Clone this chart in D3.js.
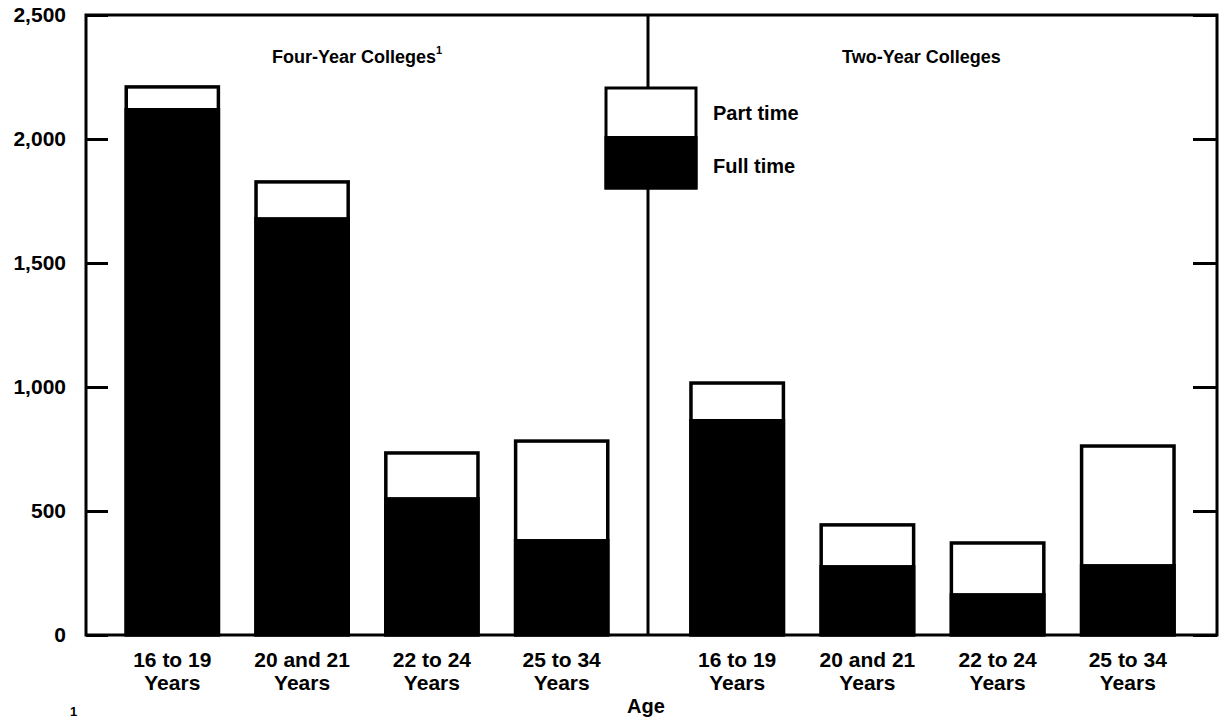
<!DOCTYPE html>
<html>
<head>
<meta charset="utf-8">
<script src="https://cdn.jsdelivr.net/npm/d3@7"></script>
<style>
  body { margin: 0; background: #fff; }
  text { font-family: "Liberation Sans", Arial, sans-serif; font-weight: bold; fill: #000; }
</style>
</head>
<body>
<div id="chart"></div>
<script>
// enrollment, thousands
var categories = ["16 to 19|Years", "20 and 21|Years", "22 to 24|Years", "25 to 34|Years"];
var panels = ["Four-Year Colleges", "Two-Year Colleges"];
var fourYearTotal = [2210, 1827, 734, 782];
var fourYearFull = [2125, 1685, 556, 387];
var twoYearTotal = [1016, 444, 371, 762];
var twoYearFull = [871, 282, 169, 286];
var yTicks = [0, 500, 1000, 1500, 2000, 2500];

var width = 1225;
var height = 720;
var plotLeft = 86, plotRight = 1217, plotTop = 15, plotBottom = 635, divider = 648;

var svg = d3.select("#chart")
  .append("svg")
  .attr("width", width)
  .attr("height", height);

var y = d3.scaleLinear()
  .domain([0, 2500])
  .range([plotBottom, plotTop]);

var xPanel = [
  d3.scaleBand().domain(categories).range([plotLeft, divider]).paddingInner(0.29).paddingOuter(0.31),
  d3.scaleBand().domain(categories).range([divider, plotRight]).paddingInner(0.29).paddingOuter(0.33)
];

var series = [
  { total: fourYearTotal, full: fourYearFull },
  { total: twoYearTotal, full: twoYearFull }
];

// bars
series.forEach(function (s, p) {
  var x = xPanel[p];
  var g = svg.append("g");
  g.selectAll("rect.total")
    .data(categories)
    .enter().append("rect")
    .attr("class", "total")
    .attr("x", function (d) { return x(d); })
    .attr("width", x.bandwidth())
    .attr("y", function (d, i) { return y(s.total[i]); })
    .attr("height", function (d, i) { return y(0) - y(s.total[i]); })
    .attr("fill", "#fff")
    .attr("stroke", "#000")
    .attr("stroke-width", 3.5);
  g.selectAll("rect.full")
    .data(categories)
    .enter().append("rect")
    .attr("class", "full")
    .attr("x", function (d) { return x(d) - 1.75; })
    .attr("width", x.bandwidth() + 3.5)
    .attr("y", function (d, i) { return y(s.full[i]); })
    .attr("height", function (d, i) { return y(0) - y(s.full[i]); })
    .attr("fill", "#000");

  // category labels
  var lab = svg.append("g")
    .selectAll("text")
    .data(categories)
    .enter().append("text")
    .attr("text-anchor", "middle")
    .attr("font-size", 21)
    .attr("x", function (d) { return x(d) + x.bandwidth() / 2; })
    .attr("y", 667);
  lab.append("tspan")
    .attr("x", function (d) { return x(d) + x.bandwidth() / 2; })
    .text(function (d) { return d.split("|")[0]; });
  lab.append("tspan")
    .attr("x", function (d) { return x(d) + x.bandwidth() / 2; })
    .attr("dy", 23)
    .text(function (d) { return d.split("|")[1]; });
});

// frame
svg.append("rect")
  .attr("x", plotLeft)
  .attr("y", plotTop)
  .attr("width", plotRight - plotLeft)
  .attr("height", plotBottom - plotTop)
  .attr("fill", "none")
  .attr("stroke", "#000")
  .attr("stroke-width", 3);

svg.append("line")
  .attr("x1", divider).attr("x2", divider)
  .attr("y1", plotTop).attr("y2", plotBottom)
  .attr("stroke", "#000")
  .attr("stroke-width", 3);

// y axis (ticks point inward)
var yaxis = d3.axisLeft(y)
  .tickValues(yTicks)
  .tickFormat(d3.format(","))
  .tickSize(-22)
  .tickPadding(20);

var ya = svg.append("g")
  .attr("transform", "translate(" + plotLeft + ",0)")
  .call(yaxis);
ya.select(".domain").remove();
ya.selectAll("line").attr("stroke-width", 3);
ya.selectAll("text")
  .attr("font-size", 21)
  .attr("font-family", "Liberation Sans, Arial, sans-serif");

var yaxisR = d3.axisRight(y)
  .tickValues(yTicks)
  .tickFormat("")
  .tickSize(-24);

var yr = svg.append("g")
  .attr("transform", "translate(" + plotRight + ",0)")
  .call(yaxisR);
yr.select(".domain").remove();
yr.selectAll("line").attr("stroke-width", 3);

// panel titles
svg.append("text")
  .attr("x", 272).attr("y", 63)
  .attr("font-size", 18)
  .text(panels[0])
  .append("tspan")
  .attr("font-size", 11)
  .attr("dy", -9)
  .text("1");

svg.append("text")
  .attr("x", 842).attr("y", 63)
  .attr("font-size", 18)
  .text(panels[1]);

// legend
var legend = svg.append("g");
legend.append("rect")
  .attr("x", 606).attr("y", 88)
  .attr("width", 90).attr("height", 100)
  .attr("fill", "#fff")
  .attr("stroke", "#000")
  .attr("stroke-width", 3);
legend.append("rect")
  .attr("x", 604.5).attr("y", 136)
  .attr("width", 93).attr("height", 53.5)
  .attr("fill", "#000");
legend.append("text")
  .attr("x", 713).attr("y", 120)
  .attr("font-size", 20)
  .text("Part time");
legend.append("text")
  .attr("x", 713).attr("y", 173)
  .attr("font-size", 20)
  .text("Full time");

// axis title and footnote
svg.append("text")
  .attr("x", 646).attr("y", 713)
  .attr("text-anchor", "middle")
  .attr("font-size", 20)
  .text("Age");

svg.append("text")
  .attr("x", 70).attr("y", 716)
  .attr("font-size", 13)
  .text("1");
</script>
</body>
</html>
